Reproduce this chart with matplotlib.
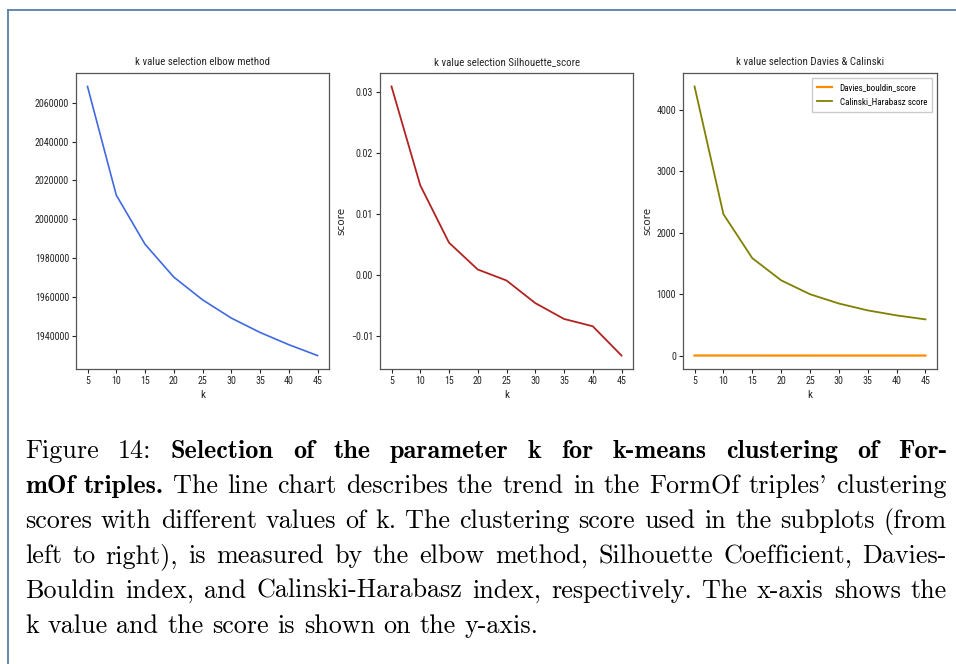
import numpy as np
import matplotlib
matplotlib.use('Agg')
import matplotlib.pyplot as plt
from matplotlib import font_manager as fm
from matplotlib.lines import Line2D

# k values and scores
k_values = [5, 10, 15, 20, 25, 30, 35, 40, 45]
elbow = [2068400, 2012500, 1987200, 1970300, 1958600, 1949200, 1941800, 1935500, 1929900]
silhouette = [0.0309, 0.0147, 0.0053, 0.0009, -0.0009, -0.0046, -0.0072, -0.0084, -0.0132]
davies = [4.1, 3.9, 3.8, 3.7, 3.6, 3.5, 3.5, 3.4, 3.4]
calinski = [4376, 2301, 1586, 1226, 1000, 849, 737, 656, 591]

titles = ['k value selection elbow method',
          'k value selection Silhouette_score',
          'k value selection Davies & Calinski']

caption = [
    [('Figure 14:', False), ('Selection of the parameter k for k-means clustering of For-', True)],
    [('mOf triples.', True), ("The line chart describes the trend in the FormOf triples' clustering", False)],
    [('scores with different values of k. The clustering score used in the subplots (from', False)],
    [('left to right), is measured by the elbow method, Silhouette Coefficient, Davies-', False)],
    [('Bouldin index, and Calinski-Harabasz index, respectively. The x-axis shows the', False)],
    [('k value and the score is shown on the y-axis.', False)],
]

# narrow sans for the chart text (the screenshot is squeezed sideways)
have = {f.name for f in fm.fontManager.ttflist}
narrow = [n for n in ['Roboto Condensed', 'PT Sans Narrow', 'Archivo Narrow',
                      'Liberation Sans Narrow', 'Fira Sans Condensed',
                      'IBM Plex Sans Condensed', 'Open Sans Condensed'] if n in have]
plt.rcParams['font.family'] = narrow[:1] + ['DejaVu Sans']

W, H = 956, 664
fig = plt.figure(figsize=(W / 100, H / 100), dpi=100)

TXT = '#262626'
SPINE = '#555555'


def px_axes(x0, y0, x1, y1):
    return fig.add_axes([x0 / W, 1 - y1 / H, (x1 - x0) / W, (y1 - y0) / H])


axes = [px_axes(76, 73, 329, 369), px_axes(380, 73, 633, 369), px_axes(683, 73, 937, 369)]

for ax, t in zip(axes, titles):
    ax.set_title(t, fontsize=7.8, color=TXT, pad=6)
    ax.set_xticks(k_values)
    ax.set_xlabel('k', fontsize=8, color=TXT, labelpad=3)
    ax.tick_params(labelsize=7.2, colors=TXT, length=3, width=0.8, pad=2)
    for s in ax.spines.values():
        s.set_color(SPINE)
        s.set_linewidth(0.9)

ax = axes[0]
ax.plot(k_values, elbow, color='royalblue', lw=1.2)
ax.ticklabel_format(axis='y', style='plain', useOffset=False)

ax = axes[1]
ax.plot(k_values, silhouette, color='firebrick', lw=1.3)
ax.set_ylabel('score', fontsize=7.5, color=TXT, family='DejaVu Sans', labelpad=3)
ax.set_yticks([-0.01, 0.0, 0.01, 0.02, 0.03])

ax = axes[2]
ax.plot(k_values, davies, color='darkorange', lw=1.6, label='Davies_bouldin_score')
ax.plot(k_values, calinski, color='olive', lw=1.3, label='Calinski_Harabasz score')
ax.set_ylabel('score', fontsize=7.5, color=TXT, family='DejaVu Sans', labelpad=3)
ax.set_yticks([0, 1000, 2000, 3000, 4000])
ax.legend(loc='upper right', fontsize=6.5, framealpha=1, edgecolor='#cccccc',
          fancybox=False, handlelength=1.7, borderpad=0.6, labelspacing=0.6)

# frame around the figure block
fc = '#5a7fa8'
fig.add_artist(Line2D([8 / W, 1], [1 - 10 / H, 1 - 10 / H], color=fc, lw=1.3,
                      transform=fig.transFigure))
fig.add_artist(Line2D([8 / W, 8 / W], [0, 1 - 10 / H], color=fc, lw=1.3,
                      transform=fig.transFigure))

# justified caption in Computer Modern
renderer = fig.canvas.get_renderer()
cap_size = 18.8
left_px, right_px = 25, 947
baselines = [458, 493, 528, 563, 598, 633]
space_w = 0.3333 * cap_size * 100 / 72


def measure(s, bold):
    t = fig.text(0, 0, s, fontsize=cap_size, family='cmb10' if bold else 'cmr10')
    w = t.get_window_extent(renderer).width
    t.remove()
    return w


for li, (segs, y) in enumerate(zip(caption, baselines)):
    words = []
    for s, bold in segs:
        words += [(w, bold) for w in s.split(' ')]
    widths = [measure(w, b) for w, b in words]
    if li < len(caption) - 1:
        gap = (right_px - left_px - sum(widths)) / (len(words) - 1)
    else:
        gap = space_w
    x = left_px
    for (w, b), ww in zip(words, widths):
        fig.text(x / W, 1 - y / H, w, fontsize=cap_size, family='cmb10' if b else 'cmr10',
                 va='baseline', ha='left', color='black')
        x += ww + gap

fig.savefig('out.png', dpi=100)
